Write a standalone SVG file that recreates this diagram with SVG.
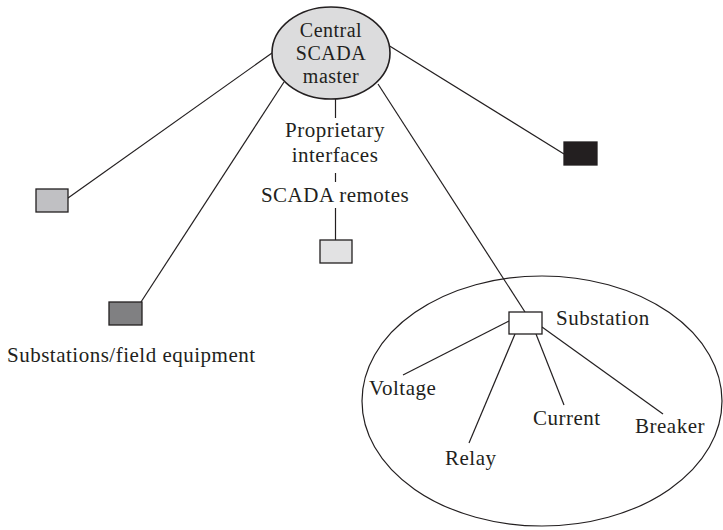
<svg xmlns="http://www.w3.org/2000/svg" width="723" height="530" viewBox="0 0 723 530">
<style>
text{font-family:"Liberation Serif","DejaVu Serif",serif;font-size:21px;letter-spacing:0.5px;fill:#231f20}
.c{text-anchor:middle}
.m{font-size:20px}
.ln{stroke:#231f20;stroke-width:1.2;fill:none}
.bx{stroke:#231f20;stroke-width:1.3}
</style>
<rect width="723" height="530" fill="#fff"/>
<g id="connectors">
<line class="ln" x1="272" y1="53" x2="68" y2="198"/>
<line class="ln" x1="284" y1="82" x2="141" y2="302"/>
<line class="ln" x1="388" y1="45" x2="564" y2="154"/>
<line class="ln" x1="378" y1="84" x2="525" y2="312"/>
<line class="ln" x1="335.5" y1="99" x2="335.5" y2="118"/>
<line class="ln" x1="335.5" y1="173" x2="335.5" y2="182"/>
<line class="ln" x1="335.5" y1="208" x2="335.5" y2="240"/>
<line class="ln" x1="509" y1="321" x2="403" y2="375"/>
<line class="ln" x1="515" y1="334" x2="469" y2="443"/>
<line class="ln" x1="536" y1="334" x2="564" y2="405"/>
<line class="ln" x1="542" y1="327" x2="663" y2="414"/>
</g>
<g id="substation-area">
<ellipse class="ln" cx="542" cy="401" rx="180" ry="125"/>
</g>
<g id="central-master">
<ellipse cx="331" cy="53" rx="59" ry="46" fill="#dcdcdd" stroke="#231f20" stroke-width="1.6"/>
<text class="c m" x="331" y="37">Central</text>
<text class="c m" x="331" y="60">SCADA</text>
<text class="c m" x="331" y="83">master</text>
</g>
<g id="interfaces-label">
<text class="c" x="335" y="137">Proprietary</text>
<text class="c" x="335" y="162">interfaces</text>
<text class="c" x="335" y="202">SCADA remotes</text>
</g>
<g id="remote-box">
<rect class="bx" x="320" y="240" width="32" height="23" fill="#e2e2e3"/>
</g>
<g id="field-box-1">
<rect class="bx" x="36" y="189" width="32" height="23" fill="#c0c0c3"/>
</g>
<g id="field-box-2">
<rect class="bx" x="109" y="302" width="33" height="23" fill="#808082"/>
<text x="7" y="362">Substations/field equipment</text>
</g>
<g id="field-box-3">
<rect class="bx" x="564" y="142" width="33" height="23" fill="#231f20"/>
</g>
<g id="substation">
<rect class="bx" x="509" y="312" width="33" height="22" fill="#fff"/>
<text x="556" y="325">Substation</text>
</g>
<g id="voltage"><text x="369" y="395">Voltage</text></g>
<g id="relay"><text x="445" y="465">Relay</text></g>
<g id="current"><text x="533" y="425">Current</text></g>
<g id="breaker"><text x="635" y="433">Breaker</text></g>
</svg>
